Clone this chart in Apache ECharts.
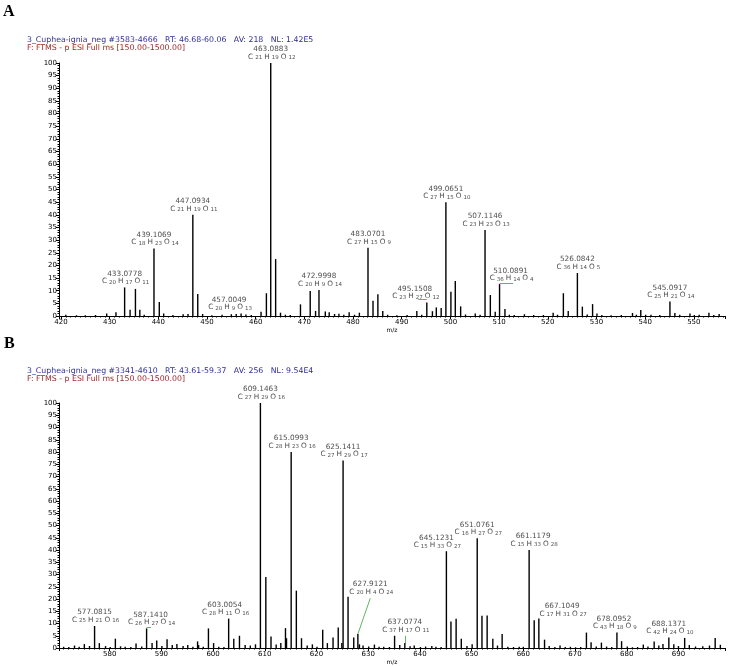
<!DOCTYPE html>
<html>
<head>
<meta charset="utf-8">
<script src="https://cdn.jsdelivr.net/npm/echarts@6/dist/echarts.min.js"></script>
<style>
html, body { margin: 0; padding: 0; background: #fff; }
#main { width: 731px; height: 666px; }
</style>
</head>
<body>
<div id="main"></div>
<script>
// panel A: m/z and relative abundance of each stick
var mzA = [421.0, 423.2, 425.0, 427.1, 429.4, 431.3, 433.08, 434.2, 435.3, 436.2, 437.1, 439.11, 440.2, 441.1, 443.0,
    445.1, 446.1, 447.09, 448.1, 449.1, 451.0, 453.1, 455.0, 456.0, 457.0, 458.0, 459.1, 461.1, 462.2, 463.09, 464.1,
    465.1, 466.1, 467.1, 469.2, 471.2, 472.3, 473.0, 474.3, 475.1, 476.2, 477.1, 478.1, 479.2, 480.3, 481.3, 483.07,
    484.1, 485.1, 486.1, 487.1, 489.0, 491.1, 493.1, 494.1, 495.15, 496.3, 497.1, 498.1, 499.07, 500.1, 501.0, 502.1,
    503.1, 505.1, 506.1, 507.11, 508.2, 509.2, 510.09, 511.2, 512.1, 513.1, 515.2, 517.1, 519.1, 521.1, 522.0, 523.2,
    524.2, 526.08, 527.1, 528.1, 529.2, 530.1, 531.1, 533.0, 535.1, 537.4, 538.2, 539.1, 540.1, 541.2, 543.0, 545.09,
    546.1, 547.1, 549.2, 550.1, 551.1, 553.1, 554.1, 555.2];
var intA = [0.5, 0.3, 0.3, 0.4, 1.0, 1.5, 11.3, 2.5, 10.7, 2.5, 0.5, 26.7, 5.5, 1.0, 0.4,
    0.7, 0.8, 40, 8.7, 0.8, 0.3, 0.5, 0.7, 0.8, 1.0, 0.6, 0.4, 1.7, 9, 100, 22.5,
    1.3, 0.5, 0.4, 4.6, 9.9, 2, 10.3, 1.8, 1.5, 0.8, 0.9, 0.5, 1.5, 0.5, 1.3, 27,
    6, 8.6, 2, 0.5, 0.3, 0.4, 2, 0.5, 5.3, 1.9, 3.4, 3.2, 45, 9.6, 13.8, 3.8,
    0.6, 1, 0.5, 34, 8.3, 1.7, 12.6, 2.8, 0.5, 0.4, 0.7, 0.4, 0.4, 1.3, 0.5, 9,
    2, 17, 3.7, 0.6, 4.7, 1, 0.4, 0.3, 0.4, 1.2, 0.5, 2.4, 0.5, 0.5, 0.4, 5.7,
    1.2, 0.5, 1, 0.4, 0.5, 1.3, 0.4, 0.8];
var annMzA = ['433.0778', '439.1069', '447.0934', '457.0049', '463.0883', '472.9998', '483.0701', '495.1508',
    '499.0651', '507.1146', '510.0891', '526.0842', '545.0917'];
var annCHOA = [[20, 17, 11], [18, 23, 14], [21, 19, 11], [20, 9, 13], [21, 19, 12], [20, 9, 14], [27, 15, 9],
    [23, 27, 12], [27, 15, 10], [23, 23, 13], [36, 14, 4], [36, 14, 5], [25, 21, 14]];
var greenA = [[[493.4, 6.6], [495.15, 6.6]], [[510.09, 13.0], [512.9, 13.0]]];

// panel B
var mzB = [571.1, 572.1, 573.2, 574.1, 575.1, 576.1, 577.08, 578.0, 579.2, 580.1, 581.1, 582.1, 583.0, 584.1, 585.1,
    586.2, 587.14, 588.2, 589.1, 590.1, 591.1, 592.1, 593.0, 594.2, 595.1, 596.1, 597.0, 597.2, 598.1, 599.1, 600.1,
    601.1, 602.1, 603.01, 604.0, 605.1, 606.2, 607.2, 608.2, 609.15, 610.2, 611.2, 612.2, 613.1, 614.0, 614.2, 615.10,
    616.1, 617.1, 618.2, 619.2, 620.1, 621.2, 622.1, 623.2, 624.2, 624.9, 625.14, 626.1, 627.2, 628.0, 628.3, 629.0,
    630.1, 631.2, 632.1, 633.0, 634.1, 635.1, 636.1, 637.08, 638.1, 638.9, 640.1, 641.1, 642.3, 643.1, 644.1, 645.12,
    646.0, 647.0, 648.0, 649.1, 650.1, 651.08, 652.0, 653.0, 654.1, 655.0, 655.9, 657.0, 658.1, 659.2, 660.0, 661.12,
    662.1, 663.0, 664.1, 665.0, 666.1, 667.1, 668.1, 669.1, 670.1, 671.1, 672.2, 673.1, 674.1, 675.1, 676.1, 677.1,
    678.10, 679.0, 680.1, 681.1, 682.1, 683.2, 684.1, 685.3, 686.2, 687.0, 688.14, 689.1, 690.0, 691.2, 692.1, 693.3,
    694.7, 696.0, 697.1, 698.1];
var intB = [0.5, 0.4, 1.0, 0.5, 1.6, 0.8, 9, 2, 0.8, 0.4, 3.8, 0.7, 0.5, 0.4, 1.8,
    0.6, 8, 2, 3.1, 0.8, 3.6, 1.2, 1.6, 0.8, 1.2, 0.5, 2.7, 1.2, 0.5, 8, 2,
    0.5, 0.4, 12, 3.8, 5, 1.2, 1, 1.5, 100, 29, 4.7, 1.4, 2, 8.1, 4, 80,
    23.4, 4, 1, 1.5, 0.5, 7.4, 2, 4.3, 8.4, 2, 76.5, 20.9, 4.3, 5.7, 1.5, 1,
    0.6, 1.4, 0.5, 0.5, 0.4, 5, 1.2, 2, 0.7, 1, 0.4, 0.6, 0.8, 0.5, 0.4, 39.5,
    10.8, 11.9, 3.8, 0.8, 1.5, 44.8, 13.2, 13.3, 3.8, 1, 5.7, 0.5, 0.4, 0.5, 0.5, 40,
    11.3, 12, 3.4, 0.8, 0.4, 1, 0.4, 0.5, 0.3, 0.4, 6.3, 2.3, 0.6, 2.2, 0.6, 0.4,
    6.3, 2.8, 0.6, 0.3, 0.4, 1.4, 0.6, 2.7, 1, 1.6, 4.3, 1.5, 0.8, 4.1, 1.2, 0.6,
    0.7, 1, 4.1, 1.3];
var annMzB = ['577.0815', '587.1410', '603.0054', '609.1463', '615.0993', '625.1411', '627.9121', '637.0774',
    '645.1231', '651.0761', '661.1179', '667.1049', '678.0952', '688.1371'];
var annCHOB = [[25, 21, 16], [26, 27, 14], [28, 11, 16], [27, 29, 16], [28, 23, 16], [27, 29, 17], [20, 4, 24],
    [37, 17, 11], [15, 33, 27], [16, 27, 27], [15, 33, 28], [17, 31, 27], [43, 18, 9], [42, 24, 10]];
var greenB = [[[587.14, 8.3], [588.0, 8.3]], [[628.0, 5.7], [630.4, 20.3]], [[637.08, 2], [637.08, 5]]];

// labels that do not sit straight on their peak
var labelShift = {
    '457.0049': { offset: [-12, 0] },
    '495.1508': { offset: [-12, 0] },
    '510.0891': { offset: [11, 0] },
    '587.1410': { offset: [4, 0] },
    '603.0054': { offset: [-4, 0] },
    '627.9121': { at: [630.4, 20.5] },
    '637.0774': { at: [637.08, 5] },
    '645.1231': { offset: [-10, 0] },
    '661.1179': { offset: [4, 0] },
    '667.1049': { at: [667.5, 11.5] },
    '678.0952': { offset: [-3, 0] }
};

var FONT = '"DejaVu Sans", "Liberation Sans", sans-serif';

function sticks(mz, ints) {
    var d = [];
    for (var i = 0; i < mz.length; i++) d.push([mz[i], ints[i]]);
    return d;
}

function nearestPeak(mz, ints, v) {
    var best = 0;
    for (var i = 1; i < mz.length; i++) {
        if (Math.abs(mz[i] - v) < Math.abs(mz[best] - v)) best = i;
    }
    return [mz[best], ints[best]];
}

function annotations(mz, ints, names, cho) {
    return names.map(function (n, i) {
        var s = labelShift[n] || {};
        var item = {
            value: s.at || nearestPeak(mz, ints, parseFloat(n)),
            name: n,
            cho: cho[i]
        };
        if (s.offset) item.label = { offset: s.offset };
        return item;
    });
}

function labelText(p) {
    var c = p.data.cho;
    return '{n|' + p.data.name + '}\n{e|C}{s|' + c[0] + '}{e|H}{s|' + c[1] + '}{e|O}{s|' + c[2] + '}';
}

function xAxisOf(idx, min, max) {
    return {
        type: 'value', gridIndex: idx, min: min, max: max, splitNumber: 14,
        name: 'm/z', nameLocation: 'middle', nameGap: 11,
        nameTextStyle: { fontSize: 6, color: '#000', fontFamily: FONT },
        axisLine: { lineStyle: { color: '#000', width: 1 } },
        axisTick: { length: 3, lineStyle: { color: '#000' } },
        minorTick: { show: true, splitNumber: 10, length: 1.5, lineStyle: { color: '#000' } },
        splitLine: { show: false },
        axisLabel: { fontSize: 7, color: '#000', margin: 3, fontFamily: FONT, showMinLabel: false, showMaxLabel: false }
    };
}

function yAxisOf(idx) {
    return {
        type: 'value', gridIndex: idx, min: 0, max: 100, interval: 5,
        axisLine: { show: true, lineStyle: { color: '#000', width: 1 } },
        axisTick: { show: true, length: 3, lineStyle: { color: '#000' } },
        minorTick: { show: true, splitNumber: 5, length: 1.5, lineStyle: { color: '#000' } },
        splitLine: { show: false },
        axisLabel: { fontSize: 7, color: '#000', margin: 2, fontFamily: FONT }
    };
}

function stickSeries(idx, mz, ints) {
    return {
        type: 'custom', xAxisIndex: idx, yAxisIndex: idx, silent: true, clip: true,
        data: sticks(mz, ints),
        renderItem: function (params, api) {
            var p0 = api.coord([api.value(0), 0]);
            var p1 = api.coord([api.value(0), api.value(1)]);
            return {
                type: 'line',
                shape: { x1: p0[0], y1: p0[1], x2: p1[0], y2: p1[1] },
                style: { stroke: '#000', lineWidth: 1.4 }
            };
        }
    };
}

function labelSeries(idx, data) {
    return {
        type: 'scatter', xAxisIndex: idx, yAxisIndex: idx, silent: true,
        symbolSize: 0, data: data,
        label: {
            show: true, position: 'top', distance: 2, color: '#222', formatter: labelText,
            rich: {
                n: { fontSize: 7.3, fontFamily: FONT, color: '#222', lineHeight: 7, align: 'center' },
                e: { fontSize: 7.3, fontFamily: FONT, color: '#222', lineHeight: 8, padding: [0, 0, 0, 2] },
                s: { fontSize: 5.5, fontFamily: FONT, color: '#222', lineHeight: 8, verticalAlign: 'bottom', padding: [2, 0, 0, 2] }
            }
        }
    };
}

function greenSeries(idx, segs) {
    return {
        type: 'lines', coordinateSystem: 'cartesian2d', xAxisIndex: idx, yAxisIndex: idx, silent: true,
        data: segs.map(function (s) { return { coords: s }; }),
        lineStyle: { color: '#3aa03a', width: 0.8, opacity: 1 }
    };
}

var myChart = echarts.init(document.getElementById('main'));
myChart.setOption({
    animation: false,
    backgroundColor: '#fff',
    grid: [
        { left: 59, top: 63, width: 666, height: 253 },
        { left: 59, top: 403, width: 666, height: 247 }
    ],
    xAxis: [xAxisOf(0, 419.6, 556.4), xAxisOf(1, 570.2, 699)],
    yAxis: [yAxisOf(0), yAxisOf(1)],
    graphic: [
        { type: 'text', left: 3, top: 4, style: { text: 'A', font: 'bold 16px "Liberation Serif"', fill: '#000' } },
        { type: 'text', left: 27, top: 36, style: { text: '3_Cuphea-ignia_neg #3583-4666   RT: 46.68-60.06   AV: 218   NL: 1.42E5', font: '7.8px ' + FONT, fill: '#2e2e9a' } },
        { type: 'text', left: 27, top: 43.5, style: { text: 'F: FTMS - p ESI Full ms [150.00-1500.00]', font: '7.8px ' + FONT, fill: '#a0282a' } },
        { type: 'text', left: 4, top: 336, style: { text: 'B', font: 'bold 16px "Liberation Serif"', fill: '#000' } },
        { type: 'text', left: 27, top: 367, style: { text: '3_Cuphea-ignia_neg #3341-4610   RT: 43.61-59.37   AV: 256   NL: 9.54E4', font: '7.8px ' + FONT, fill: '#2e2e9a' } },
        { type: 'text', left: 27, top: 374.5, style: { text: 'F: FTMS - p ESI Full ms [150.00-1500.00]', font: '7.8px ' + FONT, fill: '#a0282a' } }
    ],
    series: [
        stickSeries(0, mzA, intA),
        labelSeries(0, annotations(mzA, intA, annMzA, annCHOA)),
        greenSeries(0, greenA),
        stickSeries(1, mzB, intB),
        labelSeries(1, annotations(mzB, intB, annMzB, annCHOB)),
        greenSeries(1, greenB)
    ]
});
</script>
</body>
</html>
